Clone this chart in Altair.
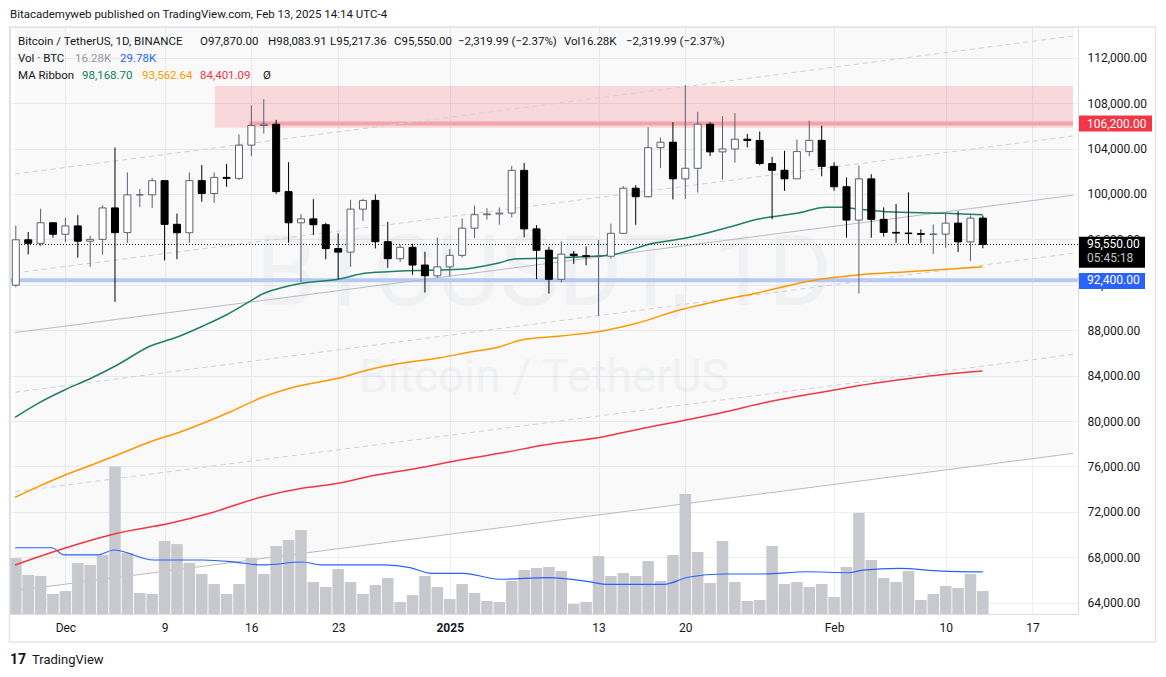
import altair as alt
import pandas as pd

FONT = "Roboto"
TEXT = "#131722"
PAD_L, PAD_T, PAD_R, PAD_B = 10, 27, 88, 63
W, H = 1068, 587

# ---- daily candles, day index 0 = 2024-11-27 ... 78 = 2025-02-13 ----
opens = [91965, 95962, 95652, 97461, 96449, 97185, 95840, 96002, 98768, 96593,
         99920, 99923, 101170, 97323, 96580, 101173, 100043, 101459, 101372, 104298,
         106030, 106140, 100205, 97461, 97805, 97291, 95186, 94878, 98663, 99430,
         95792, 94299, 95301, 93739, 92793, 93577, 94592, 96985, 98174, 98236,
         98314, 102078, 96923, 95043, 92484, 94701, 94566, 94488, 94516, 96534,
         100505, 99757, 104078, 104556, 101331, 102260, 106144, 103706, 103960, 104819,
         104714, 102683, 102087, 101333, 103733, 104722, 102429, 100635, 97700, 101328,
         97763, 96612, 96554, 96506, 96444, 96463, 97430, 95778, 97870]
highs = [97208, 96650, 98693, 97463, 97888, 98130, 96305, 99000, 104088, 101898,
         100439, 101399, 101215, 98270, 101900, 102540, 101895, 102650, 105250, 107793,
         108353, 106524, 102800, 98233, 99540, 97448, 96538, 99487, 99569, 99963,
         97544, 95525, 95619, 94903, 96150, 95149, 97839, 98976, 98734, 98813,
         102482, 102724, 97259, 95349, 95837, 94977, 95378, 95940, 97371, 100681,
         100782, 105865, 104967, 106314, 109588, 107240, 106327, 106850, 107120, 105286,
         105500, 103260, 103800, 104782, 106457, 106012, 102783, 101456, 102500, 101744,
         98826, 99120, 100137, 96880, 97323, 98345, 98478, 98119, 98083.91]
lows = [91792, 94677, 95400, 96150, 95770, 94395, 93578, 94659, 90500, 95700,
        98844, 98771, 94150, 94256, 95692, 99311, 99205, 100626, 101227, 103333,
        105321, 100000, 95700, 92232, 96398, 94250, 92520, 93575, 97632, 95199,
        93500, 94015, 92881, 91317, 92600, 92743, 94392, 96100, 97735, 97291,
        97926, 96181, 92500, 91220, 92206, 93840, 93712, 89256, 94305, 96500,
        97278, 99700, 102277, 99518, 99551, 100119, 103340, 101262, 102750, 104106,
        102520, 97777, 100272, 101328, 103321, 101560, 100279, 96150, 91231, 96150,
        96252, 95676, 95620, 95688, 94713, 95256, 94876, 94088, 95217.36]
closes = [95962, 95652, 97461, 96449, 97185, 95840, 96002, 98768, 96593, 99920,
          99923, 101170, 97323, 96580, 101173, 100043, 101459, 101372, 104298, 106030,
          106140, 100205, 97461, 97805, 97291, 95186, 94878, 98663, 99430, 95792,
          94299, 95301, 93739, 92793, 93577, 94592, 96985, 98174, 98236, 98314,
          102078, 96923, 95043, 92484, 94701, 94566, 94488, 94516, 96534, 100504,
          99756, 104078, 104556, 101331, 102260, 106144, 103706, 103960, 104819, 104714,
          102683, 102087, 101333, 103733, 104722, 102429, 100635, 97700, 101328, 97763,
          96612, 96554, 96506, 96444, 96463, 97430, 95778, 97870, 95550]
# volume in thousands of BTC
vols = [39.6, 27.6, 26.9, 14.2, 16.3, 36.1, 34.7, 41.8, 104.3, 43.2,
        14.9, 14.2, 51.7, 49.5, 36.1, 28.3, 21.2, 14.2, 21.2, 39.6,
        28.3, 48.1, 52.4, 59.4, 22.6, 19.1, 31.8, 22.6, 14.2, 20.5,
        25.5, 8.5, 13.4, 26.9, 19.1, 10.6, 21.2, 14.9, 9.2, 8.5,
        23.4, 31.1, 32.6, 33.3, 30.4, 7.1, 8.5, 41.0, 26.9, 29.0,
        26.9, 37.5, 23.4, 41.8, 84.9, 43.9, 21.9, 51.7, 22.6, 9.2,
        9.9, 48.1, 21.2, 22.6, 19.1, 21.2, 12.0, 33.3, 71.5, 38.2,
        25.5, 22.6, 30.4, 9.9, 14.2, 19.8, 18.4, 28.3, 16.28]
days = list(range(len(opens)))

# ---- MA ribbon (read at sample days) ----
green_d = [-0.06, 1.8, 3.93, 6.06, 8.18, 10.85, 12.97, 15.1, 16.96, 18.83, 19.89, 21.75,
           23.08, 26.0, 28.13, 31.06, 35.85, 39.04, 40.24, 43.97, 47.96, 51.41, 53.94,
           57.66, 59.79, 62.98, 65.38, 66.71, 68.04, 70.17, 74.96, 78]
green_p = [80330, 81563, 82734, 83765, 84936, 86610, 87376, 88371, 89340, 90511, 91189, 91832,
           92131, 92484, 93012, 93215, 93364, 93946, 94272, 94386, 94624, 95654, 96095,
           97116, 97768, 98296, 98825, 98825, 98649, 98437, 98296, 98169]
orange_d = [-0.06, 1.8, 3.93, 6.06, 8.18, 10.85, 12.97, 15.1, 17.23, 19.89, 22.55, 26.0, 28.4,
            31.06, 34.25, 36.38, 39.04, 40.77, 43.97, 47.42, 50.08, 53.54, 57.26, 59.93,
            64.18, 67.91, 71.9, 77.97]
orange_p = [73284, 74218, 75222, 76103, 77010, 78181, 78921, 79802, 80770, 82091, 83025, 83765,
            84496, 85086, 85579, 86019, 86548, 87138, 87490, 87957, 88609, 89780, 90722, 91304,
            92360, 92862, 93153, 93563]
red_d = [-0.06, 3.93, 8.18, 12.44, 15.63, 19.89, 23.08, 26.0, 28.4, 32.39, 35.85, 39.04,
         42.63, 47.42, 50.6, 54.07, 57.26, 60.73, 65.24, 69.23, 73.22, 77.97]
red_p = [67322, 68793, 70114, 70995, 71875, 73337, 74077, 74517, 75099, 75838, 76569, 77160,
         77891, 78621, 79361, 80092, 80823, 81704, 82585, 83324, 83906, 84401]
vol_ma_d = [-0.06, 2.9, 3.9, 6.6, 7.9, 11.1, 15.1, 17.8, 19.9, 23.1, 24.7, 29.7, 31.8, 33.5,
            36.1, 39.0, 43.0, 46.2, 47.8, 52.3, 54.2, 57.1, 60.3, 63.8, 67.2, 68.3, 71.2,
            74.7, 78.0]
vol_ma_k = [46.9, 46.9, 41.8, 41.8, 45.3, 38.2, 38.2, 36.6, 34.7, 36.8, 34.7, 34.7, 32.8, 28.8,
            28.8, 24.6, 25.7, 22.9, 21.0, 21.0, 26.0, 28.3, 28.3, 29.9, 29.2, 31.1, 32.3,
            30.4, 29.78]

# ---- drawings ----
chan_d_start, chan_d_end = -0.065, 85.27
chan_p_start = [101757, 93038, 87788, 82530, 73776, 65057]
chan_p_end = [113911, 105104, 99881, 94773, 85868, 77149]
chan_solid = [False, False, True, False, False, True]
zone_d = [16.05, 85.27]
zone_p = [105835, 109508]
resist_d = [18.8, 85.27]
resist_p = 106200
support_p = 92400
last_p = 95550

tick_days = [4, 12, 19, 26, 35, 47, 54, 66, 75, 82]
tick_labels = ["Dec", "9", "16", "23", "2025", "13", "20", "Feb", "10", "17"]
price_ticks = list(range(64000, 112001, 4000))

X_DOMAIN = [-0.065, 85.27]
Y_DOMAIN = [63004, 114704]
VOL_DOMAIN = [0, 415.4]

xs = alt.Scale(domain=X_DOMAIN, nice=False, zero=False)
ys = alt.Scale(domain=Y_DOMAIN, nice=False, zero=False)
vs = alt.Scale(domain=VOL_DOMAIN, nice=False, zero=False)

label_expr = "''"
for d, lab in reversed(list(zip(tick_days, tick_labels))):
    label_expr = f"datum.value == {d} ? '{lab}' : ({label_expr})"

GRID = "#eceef2"
x_axis = alt.Axis(values=tick_days, labelExpr=label_expr, grid=True, gridColor=GRID,
                  domain=False, ticks=False, labelPadding=8, labelFontSize=12,
                  labelColor=TEXT, labelFont=FONT, title=None, labelOverlap=False,
                  labelFlush=False,
                  labelFontWeight={"condition": {"test": "datum.value == 35", "value": "bold"},
                                   "value": "normal"})
y_axis = alt.Axis(orient="right", values=price_ticks, format=",.2f", grid=True, gridColor=GRID,
                  domain=False, ticks=False, labelPadding=9, labelFontSize=12,
                  labelColor=TEXT, labelFont=FONT, title=None, labelOverlap=False,
                  labelAlign="left", labelFlush=False)

def X():
    return alt.X("d:Q", scale=xs, axis=x_axis)

def Yb(field="p"):
    # background price layers carry the price axis
    return alt.Y(f"{field}:Q", scale=ys, axis=y_axis)

def Y(field="p"):
    return alt.Y(f"{field}:Q", scale=ys, axis=None)

def txt(s, x, y, color=TEXT, size=11.5, weight="normal", align="left", opacity=1.0):
    return alt.Chart(pd.DataFrame({"t": [s]})).mark_text(
        align=align, baseline="middle", font=FONT, fontSize=size, fontWeight=weight,
        color=color, opacity=opacity
    ).encode(text="t:N", x=alt.value(x - PAD_L), y=alt.value(y - PAD_T))

# ---- data tables ----
candles = pd.DataFrame({"d": days, "o": opens, "h": highs, "l": lows, "c": closes, "v": vols})
chan_rows = []
for i, (p0, p1) in enumerate(zip(chan_p_start, chan_p_end)):
    chan_rows.append({"id": i, "d": chan_d_start, "p": p0, "solid": chan_solid[i]})
    chan_rows.append({"id": i, "d": chan_d_end, "p": p1, "solid": chan_solid[i]})
chan = pd.DataFrame(chan_rows)
lower = chan[chan["id"] == 5].copy()
lower["top"] = Y_DOMAIN[1]
ma = pd.concat([
    pd.DataFrame({"d": green_d, "p": green_p, "s": "g"}),
    pd.DataFrame({"d": orange_d, "p": orange_p, "s": "o"}),
    pd.DataFrame({"d": red_d, "p": red_p, "s": "r"}),
])
vma = pd.DataFrame({"d": vol_ma_d, "k": vol_ma_k})

# ---- background price layers ----
fill = alt.Chart(lower).mark_area(color="#000000", opacity=0.022, clip=True).encode(
    x=X(), y=Yb("p"), y2="top:Q")
wm1 = alt.Chart(pd.DataFrame({"t": ["BTCUSDT, 1D"]})).mark_text(
    align="center", baseline="middle", font=FONT, fontSize=98, color="#8f93a0", opacity=0.075
).encode(text="t:N", x=alt.value(544 - PAD_L), y=alt.value(276 - PAD_T))
wm2 = alt.Chart(pd.DataFrame({"t": ["Bitcoin / TetherUS"]})).mark_text(
    align="center", baseline="middle", font=FONT, fontSize=46, color="#8f93a0", opacity=0.075
).encode(text="t:N", x=alt.value(544 - PAD_L), y=alt.value(378 - PAD_T))
zone = alt.Chart(pd.DataFrame({"d": [zone_d[0]], "d2": [zone_d[1]],
                               "p": [zone_p[0]], "p2": [zone_p[1]]})).mark_rect(
    color="#f23645", opacity=0.17, clip=True).encode(
    x=X(), x2="d2:Q", y=Yb(), y2="p2:Q")
resist = alt.Chart(pd.DataFrame({"d": [resist_d[0]], "d2": [resist_d[1]], "p": [resist_p]})).mark_rule(
    color="#f5a3aa", strokeWidth=4, clip=True).encode(x=X(), x2="d2:Q", y=Yb())
support = alt.Chart(pd.DataFrame({"p": [support_p]})).mark_rule(
    color="#b5c8f6", strokeWidth=4).encode(y=Yb())
chan_solid_l = alt.Chart(chan[chan["solid"]]).mark_line(
    color="#b9bbc4", strokeWidth=1, clip=True).encode(x=X(), y=Yb(), detail="id:N")
chan_dash_l = alt.Chart(chan[~chan["solid"]]).mark_line(
    color="#cfd1d9", strokeWidth=1, strokeDash=[5, 4], clip=True).encode(
    x=X(), y=Yb(), detail="id:N")
bg = alt.layer(fill, wm1, wm2, zone, resist, support, chan_solid_l, chan_dash_l)

# ---- volume ----
vbars = alt.Chart(candles).mark_bar(size=11.5, color="#c8c9ce", clip=True).encode(
    x=X(), y=alt.Y("v:Q", scale=vs, axis=None))
vline = alt.Chart(vma).mark_line(color="#2962ff", strokeWidth=1.2, interpolate="monotone",
                                 clip=True).encode(x=X(), y=alt.Y("k:Q", scale=vs, axis=None))
vol_layer = alt.layer(vbars, vline)

# ---- foreground price layers ----
ma_lines = alt.Chart(ma).mark_line(strokeWidth=1.5, interpolate="monotone", clip=True).encode(
    x=X(), y=Y(),
    color=alt.Color("s:N", scale=alt.Scale(domain=["g", "o", "r"],
                                           range=["#1f7f66", "#ff9800", "#f23645"]), legend=None))
dotted = alt.Chart(pd.DataFrame({"p": [last_p]})).mark_rule(
    color=TEXT, strokeWidth=1, strokeDash=[1, 2]).encode(y=Y())
up = "datum.c >= datum.o"
wicks = alt.Chart(candles).mark_rule(strokeWidth=1, clip=True).encode(
    x=X(), y=Y("l"), y2="h:Q",
    color=alt.condition(up, alt.value("#5d606b"), alt.value("#000000")))
bodies = alt.Chart(candles).mark_bar(size=7, strokeWidth=1, clip=True).encode(
    x=X(), y=Y("o"), y2="c:Q",
    fill=alt.condition(up, alt.value("#ffffff"), alt.value("#000000")),
    stroke=alt.condition(up, alt.value("#5d606b"), alt.value("#000000")))

def box(price, color, x1, x2, thick, off=0.0):
    return alt.Chart(pd.DataFrame({"p": [price]})).mark_rule(
        color=color, strokeWidth=thick, strokeCap="butt", yOffset=off).encode(
        x=alt.value(x1 - PAD_L), x2=alt.value(x2 - PAD_L), y=Y())

def plabel(price, s, color="#ffffff", dy=0.0, size=12):
    return alt.Chart(pd.DataFrame({"p": [price], "t": [s]})).mark_text(
        align="left", baseline="middle", font=FONT, fontSize=size, color=color, dy=dy).encode(
        x=alt.value(1087 - PAD_L), y=Y(), text="t:N")

labels = [
    box(resist_p, "#f23645", 1079, 1152, 16),
    plabel(resist_p, "106,200.00"),
    box(last_p, "#000000", 1079, 1145, 31, 7.7),
    plabel(last_p, "95,550.00"),
    plabel(last_p, "05:45:18", color="#c3c5cc", dy=13.8),
    box(support_p, "#2962ff", 1079, 1145, 16, 0.8),
    plabel(support_p, "92,400.00"),
]

header = [
    txt("Bitacademyweb published on TradingView.com, Feb 13, 2025 14:14 UTC-4", 10, 15),
    txt("Bitcoin / TetherUS, 1D, BINANCE", 18, 42),
    txt("O97,870.00", 200, 42),
    txt("H98,083.91", 268, 42),
    txt("L95,217.36", 330, 42),
    txt("C95,550.00", 394, 42),
    txt("\u22122,319.99 (\u22122.37%)", 458, 42),
    txt("Vol16.28K", 564, 42),
    txt("\u22122,319.99 (\u22122.37%)", 626, 42),
    txt("Vol \u00b7 BTC", 18, 59),
    txt("16.28K", 75, 59, color="#9598a1"),
    txt("29.78K", 120, 59, color="#2962ff"),
    txt("MA Ribbon", 18, 76),
    txt("98,168.70", 82, 76, color="#137a5e"),
    txt("93,562.64", 142, 76, color="#ff9800"),
    txt("84,401.09", 200, 76, color="#f23645"),
    txt("\u00d8", 263, 76),
    txt("17", 10, 660, size=14, weight="bold"),
    txt("TradingView", 32, 660, size=13),
]

frame = alt.Chart(pd.DataFrame({"a": [0]})).mark_rect(
    fillOpacity=0, stroke="#e3e5ea", strokeWidth=1.5).encode(
    x=alt.value(9.5 - PAD_L), x2=alt.value(1155.5 - PAD_L),
    y=alt.value(27 - PAD_T), y2=alt.value(642 - PAD_T))

fg = alt.layer(ma_lines, dotted, wicks, bodies, *labels, *header, frame)

chart = alt.layer(bg, vol_layer, fg).resolve_scale(y="independent").properties(
    width=W, height=H,
    autosize=alt.AutoSizeParams(type="none"),
    padding={"left": PAD_L, "top": PAD_T, "right": PAD_R, "bottom": PAD_B},
    background="#ffffff",
).configure_view(stroke=None).configure(font=FONT)

chart.save("out.html", embed_options={"renderer": "svg", "actions": False})
